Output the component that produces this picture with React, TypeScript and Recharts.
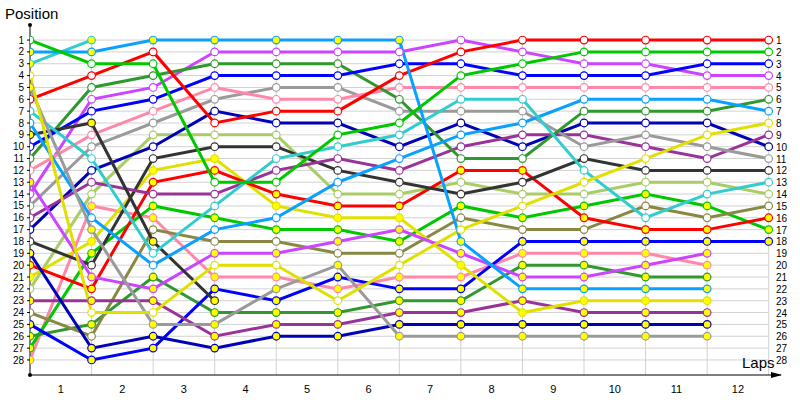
import React from 'react';
import { LineChart, Line, XAxis, YAxis, ReferenceLine, ReferenceDot } from 'recharts';

// lap index 0 = grid / start
const laps = [0, 1, 2, 3, 4, 5, 6, 7, 8, 9, 10, 11, 12];
const lapLabels = [1, 2, 3, 4, 5, 6, 7, 8, 9, 10, 11, 12];
const positionTicks = [1, 2, 3, 4, 5, 6, 7, 8, 9, 10, 11, 12, 13, 14, 15, 16, 17, 18, 19, 20, 21, 22, 23, 24, 25, 26, 27, 28];

// position of each car per lap (cars listed by starting slot)
const car01 = [1, 3, 3, 13, 13, 9, 8, 4, 3, 2, 2, 2, 2];
const car02 = [2, 2, 1, 1, 1, 1, 1, 18, 22, 22, 22, 22];
const car03 = [3, 1];
const car04 = [4, 24, 24, 20, 20, 23, 20, 17, 15, 13, 11, 9, 8];
const car05 = [5, 17, 25, 25, 22, 20, 26, 26, 26, 26, 26, 26];
const car06 = [6, 4, 2, 8, 7, 7, 4, 2, 1, 1, 1, 1, 1];
const car07 = [7, 11, 19, 15, 11, 10, 9, 6, 6, 12, 16, 14, 13];
const car08 = [8, 16, 20, 17, 16, 13, 11, 9, 8, 6, 6, 6, 7];
const car09 = [9, 8, 18, 23];
const car10 = [10, 7, 6, 4, 4, 4, 3, 3, 4, 4, 4, 3, 3];
const car11 = [11, 5, 4, 3, 3, 3, 6, 11, 11, 7, 7, 7, 6];
const car12 = [12, 9, 7, 5, 6, 6, 5, 5, 5, 5, 5, 5, 5];
const car13 = [13, 21, 22, 19, 19, 18, 17, 19, 21, 21, 20, 19];
const car14 = [14, 6, 5, 2, 2, 2, 2, 1, 2, 3, 3, 4, 4];
const car15 = [15, 10, 8, 6, 5, 5, 7, 7, 7, 10, 9, 10, 11];
const car16 = [16, 13, 14, 14, 12, 11, 12, 10, 9, 9, 10, 11, 9];
const car17 = [17, 12, 10, 7, 8, 8, 10, 8, 10, 8, 8, 8, 10];
const car18 = [18, 20, 11, 10, 10, 12, 13, 14, 13, 11, 12, 12, 12];
const car19 = [19, 27, 26, 27, 26, 26, 25, 25, 25, 25, 25, 25];
const car20 = [20, 22, 13, 12, 14, 15, 15, 12, 12, 16, 17, 17, 16];
const car21 = [21, 18, 12, 11, 15, 16, 16, 20, 24, 23, 23, 23];
const car22 = [22, 14, 9, 9, 9, 14, 14, 13, 14, 14, 13, 13, 14];
const car23 = [23, 23, 23, 26, 25, 25, 24, 24, 23, 24, 24, 24];
const car24 = [24, 26, 17, 18, 18, 19, 19, 16, 17, 17, 15, 16, 15];
const car25 = [25, 28, 27, 22, 23, 21, 22, 22, 18, 18, 18, 18, 18];
const car26 = [26, 25, 21, 24, 24, 24, 23, 23, 20, 20, 21, 21];
const car27 = [27, 19, 15, 16, 17, 17, 18, 15, 16, 15, 14, 15, 17];
const car28 = [28, 15, 16, 21, 21, 22, 21, 21, 19, 19, 19, 20];

const GREEN = '#00c800';
const DKGREEN = '#2f982f';
const LBLUE = '#0aa0ff';
const CYAN = '#33cccc';
const YELLOW = '#e0e000';
const GRAY = '#9a9a9a';
const RED = '#ff0000';
const BLACK = '#333333';
const BLUE = '#0000ff';
const NAVY = '#0000b4';
const PINK = '#ff88aa';
const VIOLET = '#cc44ff';
const PURPLE = '#993399';
const YGREEN = '#a8cc66';
const OLIVE = '#888844';

const cars = [
  { key: 'c01', values: car01, color: GREEN, filled: false },
  { key: 'c02', values: car02, color: LBLUE, filled: true },
  { key: 'c03', values: car03, color: CYAN, filled: true },
  { key: 'c04', values: car04, color: YELLOW, filled: false },
  { key: 'c05', values: car05, color: GRAY, filled: true },
  { key: 'c06', values: car06, color: RED, filled: false },
  { key: 'c07', values: car07, color: CYAN, filled: false },
  { key: 'c08', values: car08, color: LBLUE, filled: false },
  { key: 'c09', values: car09, color: BLACK, filled: true },
  { key: 'c10', values: car10, color: BLUE, filled: false },
  { key: 'c11', values: car11, color: DKGREEN, filled: false },
  { key: 'c12', values: car12, color: PINK, filled: false },
  { key: 'c13', values: car13, color: VIOLET, filled: true },
  { key: 'c14', values: car14, color: VIOLET, filled: false },
  { key: 'c15', values: car15, color: GRAY, filled: false },
  { key: 'c16', values: car16, color: PURPLE, filled: false },
  { key: 'c17', values: car17, color: NAVY, filled: false },
  { key: 'c18', values: car18, color: BLACK, filled: false },
  { key: 'c19', values: car19, color: NAVY, filled: true },
  { key: 'c20', values: car20, color: RED, filled: true },
  { key: 'c21', values: car21, color: YELLOW, filled: true },
  { key: 'c22', values: car22, color: YGREEN, filled: false },
  { key: 'c23', values: car23, color: PURPLE, filled: true },
  { key: 'c24', values: car24, color: OLIVE, filled: false },
  { key: 'c25', values: car25, color: BLUE, filled: true },
  { key: 'c26', values: car26, color: DKGREEN, filled: true },
  { key: 'c27', values: car27, color: GREEN, filled: true },
  { key: 'c28', values: car28, color: PINK, filled: true },
];

const FONT = '"Liberation Sans", Arial, sans-serif';
const W = 800;
const H = 400;
const X_MAX = 12.2;
const Y_MIN = -0.27;
const Y_MAX = 29.27;
const GRID = '#d2d2d2';

const RightTick = (props: any) => (
  <text x={props.x - 5} y={props.y} dy={4} fontSize={10} fill="#000" textAnchor="start" fontFamily={FONT}>
    {props.payload.value}
  </text>
);

const Arrow = (props: any) => (
  <polygon
    points={`${props.cx - 10},${props.cy - 3} ${props.cx + 1},${props.cy} ${props.cx - 10},${props.cy + 3}`}
    fill="#000"
  />
);

export default function App() {
  const data = laps.map((lap, i) => {
    const row: Record<string, number | null> = { lap };
    cars.forEach((c) => {
      row[c.key] = c.values[i] ?? null;
    });
    return row;
  });
  const drawOrder = [...cars].reverse();

  return (
    <div style={{ position: 'absolute', left: 0, top: 0, width: W, height: H, background: '#fff', fontFamily: FONT }}>
      <LineChart width={W} height={H} data={data} margin={{ top: 25, right: 0, bottom: 0, left: 0 }}>
        <XAxis
          dataKey="lap"
          type="number"
          domain={[0, X_MAX]}
          ticks={lapLabels.map((n) => n - 0.5)}
          tickFormatter={(v: number) => String(v + 0.5)}
          interval={0}
          allowDataOverflow
          axisLine={{ stroke: '#000' }}
          tickLine={false}
          tickSize={0}
          tickMargin={10}
          height={25}
          tick={{ fill: '#000', fontSize: 11, fontFamily: FONT }}
        />
        <YAxis
          yAxisId="left"
          type="number"
          reversed
          domain={[Y_MIN, Y_MAX]}
          ticks={positionTicks}
          interval={0}
          allowDataOverflow
          width={30}
          tickSize={3}
          tickMargin={3}
          axisLine={{ stroke: '#000' }}
          tickLine={{ stroke: '#000' }}
          tick={{ fill: '#000', fontSize: 10, fontFamily: FONT }}
        />
        <YAxis
          yAxisId="right"
          orientation="right"
          type="number"
          reversed
          domain={[Y_MIN, Y_MAX]}
          ticks={positionTicks}
          interval={0}
          allowDataOverflow
          width={19}
          tickSize={0}
          tickMargin={0}
          axisLine={false}
          tickLine={false}
          tick={<RightTick />}
        />

        {positionTicks.map((p) => (
          <ReferenceLine
            key={`h${p}`}
            yAxisId="left"
            segment={[{ x: 0, y: p }, { x: laps[laps.length - 1], y: p }]}
            stroke={GRID}
            strokeWidth={1}
            ifOverflow="visible"
          />
        ))}
        {lapLabels.map((l) => (
          <ReferenceLine
            key={`v${l}`}
            yAxisId="left"
            segment={[{ x: l, y: 1 }, { x: l, y: Y_MAX }]}
            stroke={GRID}
            strokeWidth={1}
            ifOverflow="visible"
          />
        ))}

        {drawOrder.map((c) => (
          <Line
            key={`l${c.key}`}
            yAxisId="left"
            type="linear"
            dataKey={c.key}
            stroke={c.color}
            strokeWidth={3}
            dot={false}
            activeDot={false}
            isAnimationActive={false}
            legendType="none"
          />
        ))}
        {drawOrder.map((c) => (
          <Line
            key={`d${c.key}`}
            yAxisId="left"
            type="linear"
            dataKey={c.key}
            stroke="none"
            activeDot={false}
            isAnimationActive={false}
            legendType="none"
            dot={(p: any) => {
              if (p.value == null || p.cy == null) return <g key={`${c.key}-${p.index}`} />;
              return (
                <circle
                  key={`${c.key}-${p.index}`}
                  cx={p.cx}
                  cy={p.cy}
                  r={3.8}
                  fill={c.filled ? '#ffff00' : '#ffffff'}
                  stroke={c.color}
                  strokeWidth={1.2}
                />
              );
            }}
          />
        ))}

        <ReferenceDot yAxisId="left" x={0} y={Y_MIN} r={2} fill="#000" stroke="none" ifOverflow="visible" />
        <ReferenceDot yAxisId="left" x={0} y={Y_MAX} r={2} fill="#000" stroke="none" ifOverflow="visible" />
        <ReferenceDot yAxisId="left" x={X_MAX} y={Y_MAX} shape={<Arrow />} ifOverflow="visible" />
      </LineChart>
      <div style={{ position: 'absolute', left: 5, top: 5, fontSize: 15, color: '#000' }}>Position</div>
      <div style={{ position: 'absolute', left: 742, top: 354, fontSize: 15, color: '#000' }}>Laps</div>
    </div>
  );
}
